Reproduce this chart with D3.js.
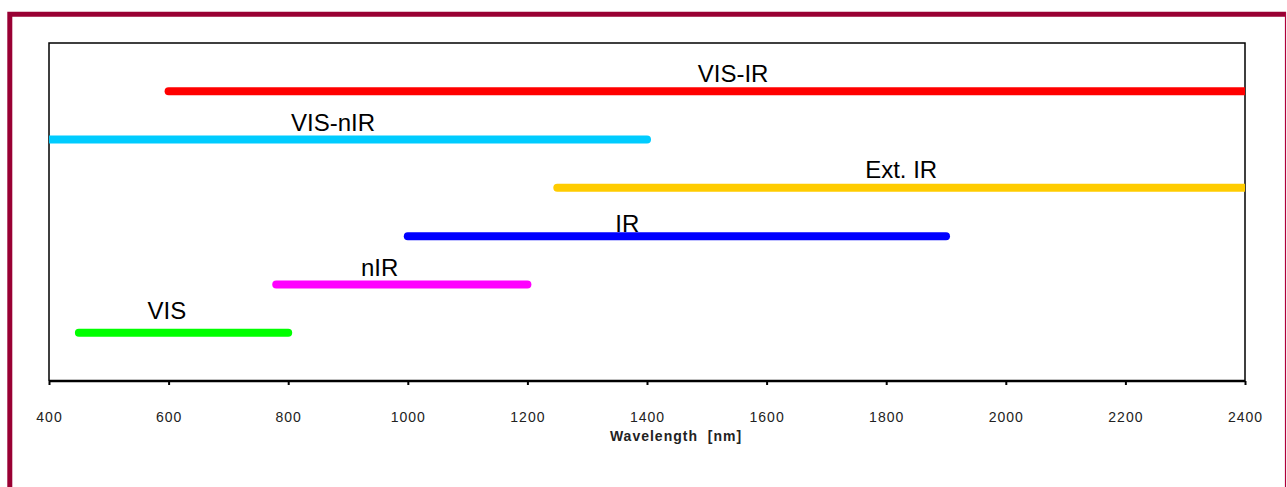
<!DOCTYPE html>
<html>
<head>
<meta charset="utf-8">
<script src="https://cdn.jsdelivr.net/npm/d3@7"></script>
<style>
  body { margin: 0; background: #fff; }
  svg { display: block; font-family: "Liberation Sans", Arial, sans-serif; }
  .tick text { font-size: 14px; letter-spacing: 1px; fill: #222; }
</style>
</head>
<body>
<svg width="1287" height="487"></svg>
<script>
// spectral ranges (nm)
const ranges = ['VIS-IR', 'VIS-nIR', 'Ext. IR', 'IR', 'nIR', 'VIS'];
const rangeStart = [600, 400, 1250, 1000, 780, 450];
const rangeEnd = [2400, 1400, 2400, 1900, 1200, 800];
const rangeLevel = [6, 5, 4, 3, 2, 1];
const colors = ['#ff0000', '#00ccff', '#ffcc00', '#0000ff', '#ff00ff', '#00ff00'];
// where Excel dropped the data labels
const labelX = [1544, 875, 1825, 1367, 953, 597];
const labelY = [6.19, 5.18, 4.2, 3.08, 2.17, 1.28];
const xTicks = [400, 600, 800, 1000, 1200, 1400, 1600, 1800, 2000, 2200, 2400];

const svg = d3.select('svg');

// outer frame
svg.append('path')
  .attr('d', 'M9.8,487 L9.8,14.2 L1286,14.2')
  .attr('fill', 'none')
  .attr('stroke', '#990033')
  .attr('stroke-width', 5);
svg.append('line')
  .attr('x1', 1285.5).attr('x2', 1285.5)
  .attr('y1', 12).attr('y2', 487)
  .attr('stroke', '#b0003a')
  .attr('stroke-width', 1.2);

const plot = { left: 49, right: 1245, top: 43, bottom: 381 };

const x = d3.scaleLinear().domain([400, 2400]).range([plot.left, plot.right]);
const y = d3.scaleLinear().domain([0, 7]).range([plot.bottom, plot.top]);

svg.append('clipPath').attr('id', 'plot')
  .append('rect')
  .attr('x', plot.left).attr('y', plot.top)
  .attr('width', plot.right - plot.left).attr('height', plot.bottom - plot.top);

// plot frame (left, top, right)
svg.append('path')
  .attr('d', `M${plot.left},${plot.bottom} L${plot.left},${plot.top} L${plot.right},${plot.top} L${plot.right},${plot.bottom}`)
  .attr('fill', 'none')
  .attr('stroke', '#000')
  .attr('stroke-width', 1.5);

const rows = ranges.map((name, i) => ({
  name: name,
  x0: rangeStart[i],
  x1: rangeEnd[i],
  level: rangeLevel[i],
  color: colors[i],
  lx: labelX[i],
  ly: labelY[i]
}));

svg.append('g')
  .attr('clip-path', 'url(#plot)')
  .selectAll('line')
  .data(rows)
  .enter()
  .append('line')
  .attr('x1', d => x(d.x0))
  .attr('x2', d => x(d.x1))
  .attr('y1', d => y(d.level))
  .attr('y2', d => y(d.level))
  .attr('stroke', d => d.color)
  .attr('stroke-width', 8)
  .attr('stroke-linecap', 'round');

svg.append('g')
  .selectAll('text')
  .data(rows)
  .enter()
  .append('text')
  .attr('x', d => x(d.lx))
  .attr('y', d => y(d.ly))
  .attr('text-anchor', 'middle')
  .attr('font-size', 24)
  .attr('fill', '#000')
  .text(d => d.name);

// x axis
const axis = svg.append('g')
  .attr('transform', `translate(0, ${plot.bottom})`)
  .call(d3.axisBottom(x)
    .tickValues(xTicks)
    .tickSize(4)
    .tickPadding(27)
    .tickFormat(d3.format('d')));
axis.select('.domain')
  .attr('d', `M${plot.left},0 H${plot.right}`)
  .attr('stroke', '#000')
  .attr('stroke-width', 2.7);
axis.selectAll('.tick line')
  .attr('stroke', '#000')
  .attr('stroke-width', 2);

svg.append('text')
  .attr('x', 676)
  .attr('y', 441)
  .attr('text-anchor', 'middle')
  .attr('font-size', 14)
  .attr('font-weight', 'bold')
  .attr('letter-spacing', 1)
  .attr('fill', '#222')
  .style('white-space', 'pre')
  .text('Wavelength  [nm]');
</script>
</body>
</html>
